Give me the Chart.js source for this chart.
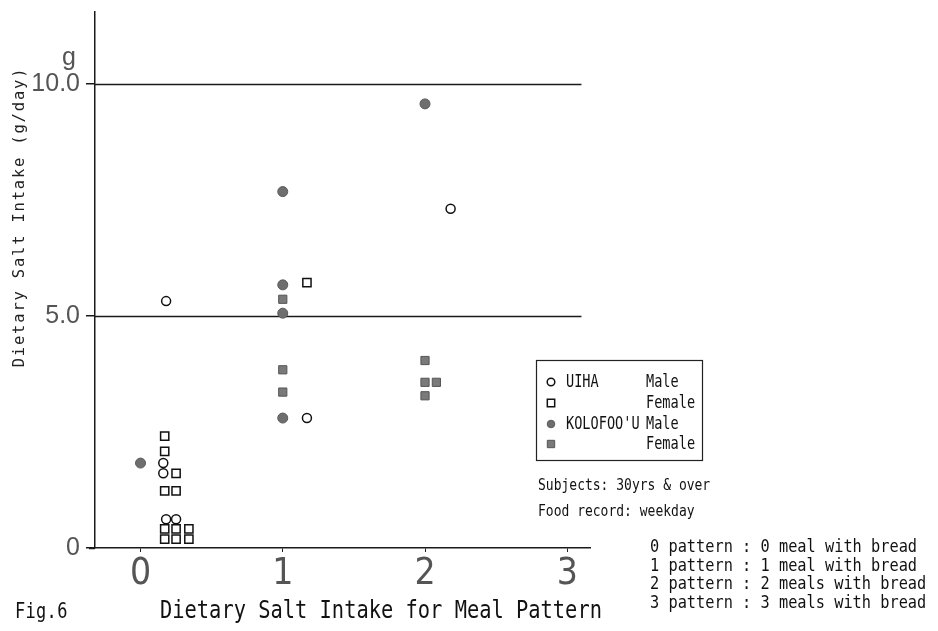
<!DOCTYPE html>
<html><head><meta charset="utf-8">
<script src="https://cdn.jsdelivr.net/npm/chart.js@4.4.1/dist/chart.umd.min.js"></script>
<style>html,body{margin:0;padding:0;background:#fff;overflow:hidden}canvas{display:block}</style>
</head><body>
<canvas id="c" width="938" height="631"></canvas>
<script>
// ---- data ----
const xTickValues = [0, 1, 2, 3];
const yTickValues = [0, 5, 10];
const yTickLabels = ['0', '5.0', '10.0'];
const gridValues = [5, 10];
const groupNames = ["UIHA", "KOLOFOO'U"];
const sexNames = ["Male", "Female"];
const seriesNames = ["UIHA Male", "UIHA Female", "KOLOFOO'U Male", "KOLOFOO'U Female"];

const uihaMaleX = [0.18, 0.16, 0.16, 0.18, 0.25, 1.17, 2.18];
const uihaMaleY = [5.32, 1.83, 1.61, 0.62, 0.62, 2.80, 7.31];
const uihaFemaleX = [0.17, 0.17, 0.25, 0.17, 0.25, 0.17, 0.25, 0.34, 0.17, 0.25, 0.34, 1.17];
const uihaFemaleY = [2.41, 2.08, 1.61, 1.23, 1.23, 0.41, 0.41, 0.41, 0.19, 0.19, 0.19, 5.72];
const koloMaleX = [0.0, 1.0, 1.0, 1.0, 1.0, 2.0];
const koloMaleY = [1.83, 7.68, 5.67, 5.06, 2.80, 9.57];
const koloFemaleX = [1.0, 1.0, 1.0, 2.0, 2.0, 2.08, 2.0];
const koloFemaleY = [5.36, 3.84, 3.36, 4.04, 3.57, 3.57, 3.28];

const yAxisTitle = "Dietary Salt Intake (g/day)";
const yUnit = "g";
const figLabel = "Fig.6";
const figTitle = "Dietary Salt Intake for Meal Pattern";
const notes = ["Subjects: 30yrs & over", "Food record: weekday"];
const patternNotes = [
  "0 pattern : 0 meal with bread",
  "1 pattern : 1 meal with bread",
  "2 pattern : 2 meals with bread",
  "3 pattern : 3 meals with bread"
];

// ---- styles ----
const MONO = "'DejaVu Sans Mono', 'Liberation Mono', monospace";
const pts = (xs, ys) => xs.map((x, i) => ({ x: x, y: ys[i] }));
const styles = [
  { pointStyle: 'circle', radius: 4.5, bg: '#ffffff', border: '#111111', bw: 1.5 },
  { pointStyle: 'rect', radius: 5.8, bg: '#ffffff', border: '#111111', bw: 1.5 },
  { pointStyle: 'circle', radius: 5, bg: '#6e6e6e', border: '#5a5a5a', bw: 1 },
  { pointStyle: 'rect', radius: 5.8, bg: '#7a7a7a', border: '#555555', bw: 1 }
];
const seriesData = [pts(uihaMaleX, uihaMaleY), pts(uihaFemaleX, uihaFemaleY), pts(koloMaleX, koloMaleY), pts(koloFemaleX, koloFemaleY)];

function txt(ctx, s, x, y, size, stretch, spacing, align, color) {
  ctx.save();
  ctx.translate(x, y);
  ctx.scale(1, stretch);
  ctx.font = size + 'px ' + MONO;
  ctx.letterSpacing = (spacing || 0) + 'px';
  ctx.textAlign = align || 'left';
  ctx.textBaseline = 'middle';
  ctx.fillStyle = color || '#111';
  ctx.fillText(s, 0, 0);
  ctx.restore();
}

const decor = {
  id: 'decor',
  beforeDatasetsDraw(chart) {
    const ctx = chart.ctx, xs = chart.scales.x, ys = chart.scales.y;
    ctx.save();
    ctx.strokeStyle = '#1a1a1a';
    ctx.lineWidth = 1.5;
    gridValues.forEach(v => {
      const py = Math.round(ys.getPixelForValue(v)) + 0.5;
      ctx.beginPath();
      ctx.moveTo(chart.chartArea.left, py);
      ctx.lineTo(xs.getPixelForValue(3.1), py);
      ctx.stroke();
    });
    // short extension of the baseline to the left of the y axis
    const p0 = Math.round(ys.getPixelForValue(0)) + 0.5;
    ctx.beginPath();
    ctx.moveTo(chart.chartArea.left - 6, p0);
    ctx.lineTo(chart.chartArea.left, p0);
    ctx.stroke();
    ctx.restore();
  },
  afterDraw(chart) {
    const ctx = chart.ctx, ys = chart.scales.y;
    // unit "g"
    ctx.save();
    ctx.font = "25px 'Liberation Sans', Arial, sans-serif";
    ctx.fillStyle = '#555';
    ctx.textAlign = 'center';
    ctx.textBaseline = 'middle';
    ctx.fillText(yUnit, 69, ys.getPixelForValue(10) - 26);
    ctx.restore();

    // y axis title
    ctx.save();
    ctx.translate(20, 217);
    ctx.rotate(-Math.PI / 2);
    ctx.font = '15.5px ' + MONO;
    ctx.letterSpacing = '1.8px';
    ctx.textAlign = 'center';
    ctx.textBaseline = 'middle';
    ctx.fillStyle = '#222';
    ctx.fillText(yAxisTitle, 0, 0);
    ctx.restore();

    // legend box
    ctx.save();
    ctx.strokeStyle = '#222';
    ctx.lineWidth = 1.2;
    ctx.strokeRect(536.5, 360.5, 166, 100);
    const rowY = [382, 403, 424, 444];
    const H = Chart.helpers;
    seriesNames.forEach((name, i) => {
      const st = styles[i];
      ctx.fillStyle = st.bg;
      ctx.strokeStyle = st.border;
      ctx.lineWidth = st.bw;
      const opts = { pointStyle: st.pointStyle, radius: st.pointStyle === 'rect' ? 5.2 : 3.8, borderWidth: st.bw, rotation: 0 };
      if (H && H.drawPoint) H.drawPoint(ctx, opts, 551, rowY[i]);
      const g = i % 2 === 0 ? groupNames[Math.floor(i / 2)] : '';
      txt(ctx, g, 566, rowY[i], 13.6, 1.3, 0, 'left', '#111');
      txt(ctx, sexNames[i % 2], 646, rowY[i], 13.6, 1.3, 0, 'left', '#111');
    });
    ctx.restore();

    // notes
    txt(ctx, notes[0], 538, 486, 13, 1.25, 0, 'left', '#111');
    txt(ctx, notes[1], 538, 512, 13, 1.25, 0, 'left', '#111');
    patternNotes.forEach((s, i) => txt(ctx, s, 650, 548 + i * 18.4, 15.3, 1.1, 0, 'left', '#111'));

    // caption
    txt(ctx, figLabel, 15, 612, 17, 1.25, 0.3, 'left', '#111');
    txt(ctx, figTitle, 160, 612, 20.4, 1.2, 0, 'left', '#111');
  }
};

new Chart(document.getElementById('c'), {
  type: 'scatter',
  data: {
    datasets: seriesNames.map((name, i) => ({
      label: name,
      data: seriesData[i],
      pointStyle: styles[i].pointStyle,
      pointRadius: styles[i].radius,
      pointHoverRadius: styles[i].radius,
      backgroundColor: styles[i].bg,
      borderColor: styles[i].border,
      borderWidth: styles[i].bw,
      showLine: false
    }))
  },
  options: {
    responsive: false,
    animation: false,
    devicePixelRatio: 1,
    events: [],
    layout: { padding: { top: 12, right: 348, left: 0, bottom: 0 } },
    plugins: { legend: { display: false }, tooltip: { enabled: false } },
    scales: {
      x: {
        type: 'linear', min: -0.32, max: 3.16,
        afterBuildTicks: s => { s.ticks = xTickValues.map(v => ({ value: v })); },
        afterFit: s => { s.height = 83; s.paddingLeft = 0; s.paddingRight = 0; },
        ticks: {
          autoSkip: false, maxRotation: 0, padding: 0,
          callback: (v, i) => String(xTickValues[i]),
          font: { family: "'Liberation Sans Narrow', 'DejaVu Sans Condensed', 'Liberation Sans', sans-serif", size: 37, weight: '300' },
          color: '#555'
        },
        grid: { drawOnChartArea: false, tickLength: 4, color: '#222', lineWidth: 1 },
        border: { color: '#1a1a1a', width: 1.5 }
      },
      y: {
        type: 'linear', min: 0, max: 11.55,
        afterBuildTicks: s => { s.ticks = yTickValues.map(v => ({ value: v })); },
        afterFit: s => { s.width = 95; s.paddingTop = 0; s.paddingBottom = 0; },
        ticks: {
          autoSkip: false, padding: 6,
          callback: (v, i) => yTickLabels[i],
          font: { family: "'Liberation Sans', Arial, sans-serif", size: 25 },
          color: '#555'
        },
        grid: { drawOnChartArea: false, tickLength: 9, color: '#1a1a1a', lineWidth: 1.5 },
        border: { color: '#1a1a1a', width: 1.5 }
      }
    }
  },
  plugins: [decor]
});
</script>
</body></html>
